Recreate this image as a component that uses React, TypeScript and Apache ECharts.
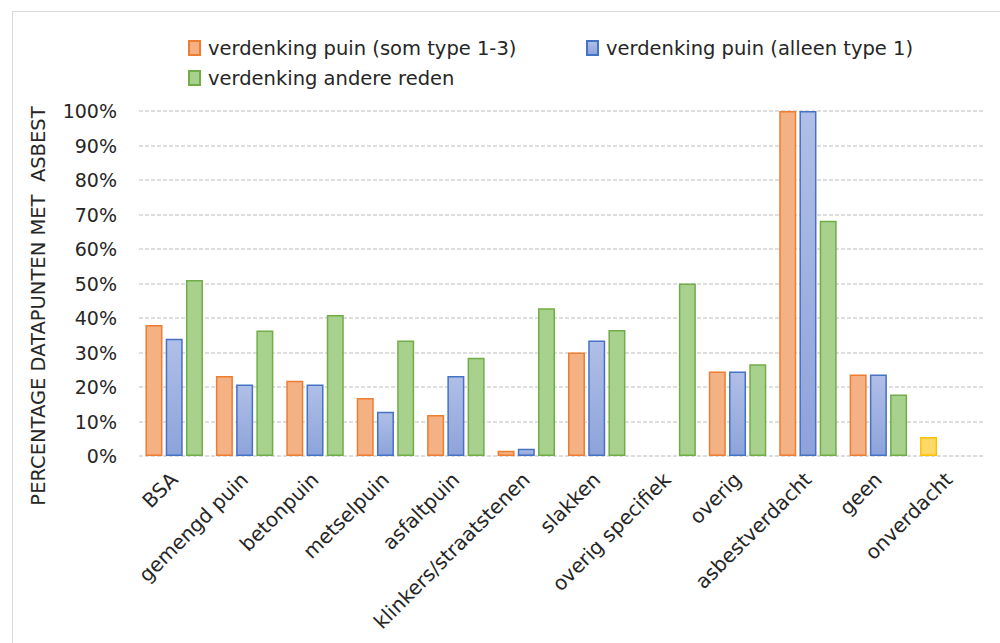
import React, { useEffect, useRef } from "react";
import * as echarts from "echarts";

const categories = [
  "BSA",
  "gemengd puin",
  "betonpuin",
  "metselpuin",
  "asfaltpuin",
  "klinkers/straatstenen",
  "slakken",
  "overig specifiek",
  "overig",
  "asbestverdacht",
  "geen",
  "onverdacht",
];

const seriesNames = [
  "verdenking puin (som type 1-3)",
  "verdenking puin (alleen type 1)",
  "verdenking andere reden",
];

// percentages
const puinSom = [38, 23.2, 21.8, 16.8, 11.9, 1.5, 30, null, 24.5, 100, 23.6, 5.5];
const puinType1 = [34, 20.7, 20.7, 12.8, 23.2, 2.1, 33.5, null, 24.5, 100, 23.6, null];
const andereReden = [51, 36.4, 40.9, 33.5, 28.5, 42.8, 36.5, 50, 26.6, 68.2, 17.8, null];

const yTicks = { min: 0, max: 100, interval: 10 };
const yTitle = "PERCENTAGE DATAPUNTEN MET  ASBEST";

const FONT = "DejaVu Sans";

export default function App() {
  const ref = useRef<HTMLDivElement>(null);
  useEffect(() => {
    if (!ref.current) return;
    const chart = echarts.init(ref.current, null, { renderer: "svg" });

    const orangeData = puinSom.map((v, i) =>
      i === categories.length - 1 && v != null
        ? { value: v, itemStyle: { color: "#FFD966", borderColor: "#FFC000" } }
        : v
    );

    const legendBase = {
      icon: "rect",
      itemWidth: 11,
      itemHeight: 14,
      textStyle: { fontFamily: FONT, fontSize: 19.5, color: "#262626", padding: [0, 0, 0, 3] },
      selectedMode: false,
    };

    chart.setOption({
      animation: false,
      textStyle: { fontFamily: FONT },
      legend: [
        { ...legendBase, data: [seriesNames[0]], left: 183, top: 33 },
        { ...legendBase, data: [seriesNames[1]], left: 581, top: 33 },
        { ...legendBase, data: [seriesNames[2]], left: 183, top: 63 },
      ],
      grid: { left: 139, right: 16, top: 111, bottom: 187, containLabel: false },
      xAxis: {
        type: "category",
        data: categories,
        axisLine: { show: false },
        axisTick: { show: false },
        axisLabel: {
          rotate: 45,
          interval: 0,
          margin: 20,
          fontFamily: FONT,
          fontSize: 20,
          color: "#262626",
        },
      },
      yAxis: {
        type: "value",
        min: yTicks.min,
        max: yTicks.max,
        interval: yTicks.interval,
        axisLine: { show: false },
        axisTick: { show: false },
        axisLabel: {
          formatter: "{value}%",
          margin: 22,
          fontFamily: FONT,
          fontSize: 19,
          color: "#262626",
        },
        splitLine: { lineStyle: { color: "#d4d4d4", width: 1.5, type: [4, 2] } },
      },
      series: [
        {
          name: seriesNames[0],
          type: "bar",
          data: orangeData,
          barWidth: 17,
          barGap: "19%",
          itemStyle: { color: "#F4B183", borderColor: "#ED7D31", borderWidth: 1.5 },
        },
        {
          name: seriesNames[1],
          type: "bar",
          data: puinType1,
          barWidth: 17,
          barGap: "19%",
          itemStyle: {
            color: new echarts.graphic.LinearGradient(0, 0, 0, 1, [
              { offset: 0, color: "#B0BFE7" },
              { offset: 1, color: "#8DA3DA" },
            ]),
            borderColor: "#4472C4",
            borderWidth: 1.5,
          },
        },
        {
          name: seriesNames[2],
          type: "bar",
          data: andereReden,
          barWidth: 17,
          barGap: "19%",
          itemStyle: { color: "#A9D18E", borderColor: "#70AD47", borderWidth: 1.5 },
        },
      ],
      graphic: [
        {
          type: "line",
          shape: { x1: 12.5, y1: 11.5, x2: 1000, y2: 11.5 },
          style: { stroke: "#d9d9d9", lineWidth: 1 },
          silent: true,
        },
        {
          type: "line",
          shape: { x1: 12.5, y1: 11.5, x2: 12.5, y2: 643 },
          style: { stroke: "#d9d9d9", lineWidth: 1 },
          silent: true,
        },
        {
          type: "text",
          x: 38,
          y: 306,
          rotation: Math.PI / 2,
          style: {
            text: yTitle,
            fontFamily: FONT,
            fontSize: 19.5,
            fill: "#262626",
            align: "center",
            verticalAlign: "middle",
          },
          silent: true,
        },
      ],
    });
    return () => chart.dispose();
  }, []);

  return (
    <div
      ref={ref}
      style={{ position: "absolute", left: 0, top: 0, width: 1000, height: 643, background: "#fff" }}
    />
  );
}
